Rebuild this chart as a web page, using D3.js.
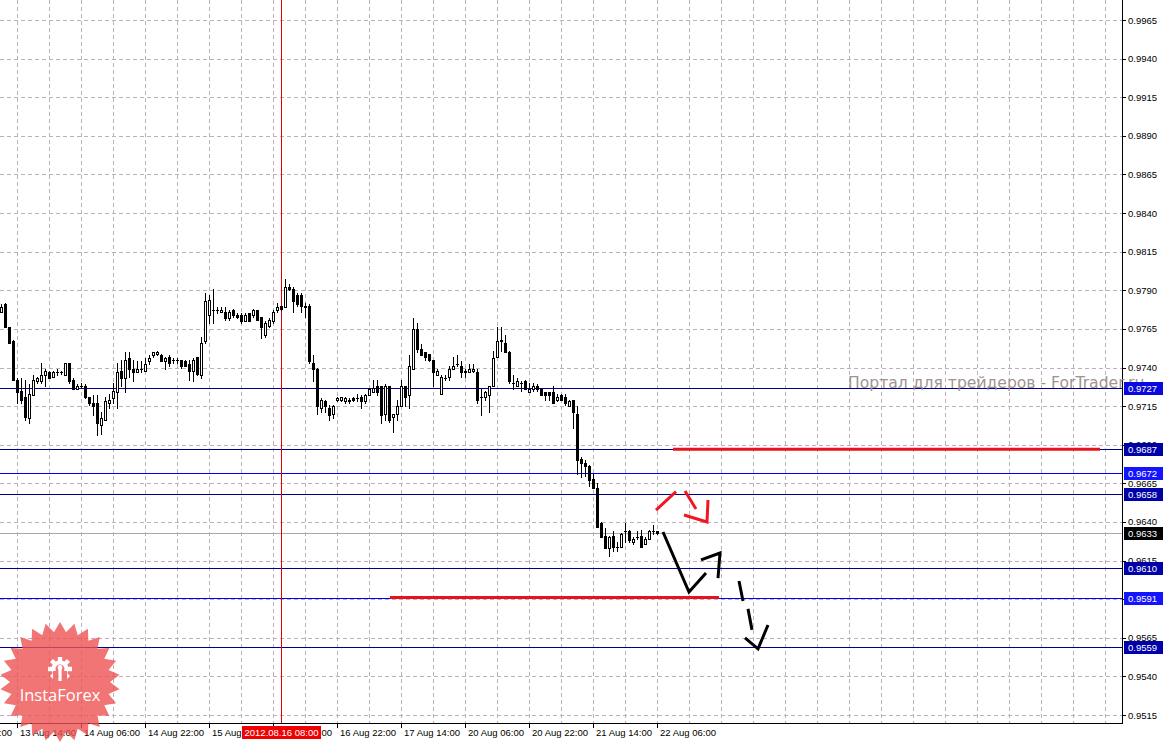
<!DOCTYPE html>
<html><head><meta charset="utf-8">
<script src="https://cdn.jsdelivr.net/npm/d3@7"></script>
<style>html,body{margin:0;padding:0;background:#fff;}svg{display:block;}</style>
</head><body>
<svg id="chart" width="1164" height="742"></svg>
<script>
// ---------------- DATA ----------------
// Hourly candles, [open, high, low, close]; index 0 = 13 Aug 10:00
const ohlc = [
[0.9776,0.9781,0.9776,0.9779],[0.9781,0.9782,0.9766,0.9766],[0.9766,0.9766,0.9756,0.9756],[0.9757,0.9758,0.9732,0.9732],
[0.9732,0.9733,0.9717,0.9724],[0.9725,0.9733,0.9717,0.9719],[0.9721,0.9732,0.9706,0.9708],[0.9707,0.9729,0.9704,0.9723],
[0.9722,0.9735,0.9722,0.9732],[0.9731,0.9734,0.9730,0.9733],[0.9731,0.9743,0.9730,0.9735],[0.9735,0.9739,0.9728,0.9738],
[0.9737,0.9738,0.9733,0.9733],[0.9734,0.9738,0.9734,0.9737],[0.9737,0.9739,0.9735,0.9737],[0.9737,0.9738,0.9736,0.9737],
[0.9735,0.9743,0.9735,0.9743],[0.9743,0.9743,0.9730,0.9731],[0.9732,0.9733,0.9726,0.9726],[0.9726,0.9729,0.9726,0.9728],
[0.9728,0.9730,0.9727,0.9728],[0.9728,0.9729,0.9720,0.9721],[0.9721,0.9721,0.9716,0.9717],[0.9717,0.9722,0.9709,0.9715],
[0.9717,0.9722,0.9696,0.9704],[0.9703,0.9711,0.9697,0.9707],[0.9706,0.9721,0.9706,0.9718],[0.9717,0.9723,0.9714,0.9719],
[0.9720,0.9730,0.9717,0.9725],[0.9724,0.9743,0.9714,0.9737],[0.9738,0.9745,0.9728,0.9733],[0.9733,0.9750,0.9724,0.9745],
[0.9746,0.9750,0.9734,0.9739],[0.9739,0.9745,0.9731,0.9737],[0.9737,0.9744,0.9737,0.9739],[0.9739,0.9744,0.9737,0.9739],
[0.9738,0.9746,0.9738,0.9742],[0.9744,0.9748,0.9742,0.9746],[0.9748,0.9750,0.9747,0.9750],[0.9749,0.9751,0.9748,0.9750],
[0.9748,0.9749,0.9744,0.9744],[0.9744,0.9747,0.9739,0.9746],[0.9747,0.9748,0.9741,0.9743],[0.9745,0.9746,0.9743,0.9745],
[0.9745,0.9746,0.9743,0.9745],[0.9745,0.9745,0.9740,0.9741],[0.9744,0.9745,0.9741,0.9741],[0.9742,0.9745,0.9732,0.9738],
[0.9738,0.9746,0.9731,0.9745],[0.9747,0.9747,0.9735,0.9736],[0.9735,0.9760,0.9733,0.9756],[0.9757,0.9788,0.9756,0.9783],
[0.9774,0.9787,0.9769,0.9784],[0.9777,0.9791,0.9769,0.9777],[0.9777,0.9779,0.9775,0.9777],[0.9776,0.9779,0.9776,0.9777],
[0.9776,0.9779,0.9771,0.9772],[0.9772,0.9777,0.9771,0.9776],[0.9777,0.9778,0.9773,0.9774],[0.9774,0.9775,0.9772,0.9773],
[0.9774,0.9775,0.9769,0.9770],[0.9770,0.9775,0.9770,0.9774],[0.9775,0.9775,0.9770,0.9770],[0.9774,0.9778,0.9773,0.9777],
[0.9777,0.9777,0.9771,0.9771],[0.9773,0.9773,0.9759,0.9766],[0.9761,0.9770,0.9760,0.9769],[0.9767,0.9772,0.9766,0.9771],
[0.9770,0.9777,0.9769,0.9776],[0.9777,0.9782,0.9776,0.9779],[0.9780,0.9780,0.9777,0.9778],[0.9779,0.9797,0.9779,0.9792],
[0.9792,0.9794,0.9790,0.9791],[0.9791,0.9792,0.9776,0.9783],[0.9787,0.9788,0.9780,0.9781],[0.9787,0.9788,0.9776,0.9780],
[0.9780,0.9782,0.9773,0.9779],[0.9780,0.9781,0.9743,0.9744],[0.9743,0.9748,0.9731,0.9739],[0.9739,0.9740,0.9710,0.9715],
[0.9714,0.9720,0.9711,0.9719],[0.9718,0.9719,0.9711,0.9715],[0.9714,0.9716,0.9706,0.9709],[0.9710,0.9716,0.9707,0.9715],
[0.9719,0.9721,0.9718,0.9720],[0.9719,0.9721,0.9718,0.9721],[0.9718,0.9721,0.9717,0.9720],[0.9719,0.9720,0.9717,0.9718],
[0.9720,0.9721,0.9718,0.9719],[0.9720,0.9723,0.9718,0.9720],[0.9721,0.9722,0.9714,0.9718],[0.9718,0.9723,0.9717,0.9722],
[0.9722,0.9727,0.9722,0.9726],[0.9724,0.9732,0.9724,0.9727],[0.9728,0.9732,0.9722,0.9724],[0.9728,0.9728,0.9704,0.9709],
[0.9710,0.9729,0.9706,0.9728],[0.9728,0.9728,0.9705,0.9706],[0.9708,0.9710,0.9698,0.9710],[0.9710,0.9719,0.9706,0.9715],
[0.9715,0.9732,0.9715,0.9728],[0.9728,0.9728,0.9715,0.9721],[0.9722,0.9748,0.9714,0.9741],[0.9739,0.9772,0.9739,0.9765],
[0.9765,0.9769,0.9750,0.9752],[0.9752,0.9755,0.9748,0.9748],[0.9750,0.9750,0.9745,0.9747],[0.9749,0.9749,0.9744,0.9745],
[0.9745,0.9745,0.9728,0.9737],[0.9735,0.9739,0.9735,0.9738],[0.9723,0.9735,0.9723,0.9734],[0.9733,0.9735,0.9732,0.9733],
[0.9734,0.9741,0.9732,0.9739],[0.9739,0.9747,0.9739,0.9741],[0.9742,0.9748,0.9741,0.9742],[0.9741,0.9744,0.9734,0.9737],
[0.9737,0.9739,0.9734,0.9738],[0.9737,0.9742,0.9737,0.9739],[0.9738,0.9742,0.9737,0.9739],[0.9737,0.9739,0.9717,0.9719],
[0.9721,0.9726,0.9709,0.9721],[0.9721,0.9725,0.9719,0.9724],[0.9722,0.9728,0.9711,0.9728],[0.9728,0.9751,0.9728,0.9746],
[0.9747,0.9766,0.9747,0.9757],[0.9757,0.9766,0.9751,0.9758],[0.9756,0.9761,0.9750,0.9750],[0.9750,0.9751,0.9730,0.9731],
[0.9730,0.9735,0.9726,0.9730],[0.9728,0.9733,0.9728,0.9731],[0.9730,0.9731,0.9725,0.9730],[0.9731,0.9732,0.9726,0.9726],
[0.9724,0.9730,0.9724,0.9726],[0.9726,0.9730,0.9725,0.9728],[0.9728,0.9729,0.9725,0.9726],[0.9726,0.9726,0.9722,0.9722],
[0.9724,0.9724,0.9719,0.9722],[0.9724,0.9724,0.9719,0.9722],[0.9724,0.9728,0.9717,0.9717],[0.9719,0.9723,0.9718,0.9721],
[0.9722,0.9723,0.9719,0.9719],[0.9721,0.9723,0.9716,0.9717],[0.9715,0.9719,0.9715,0.9718],[0.9719,0.9719,0.9701,0.9711],
[0.9710,0.9715,0.9671,0.9680],[0.9681,0.9682,0.9669,0.9678],[0.9678,0.9680,0.9670,0.9676],[0.9676,0.9677,0.9663,0.9667],
[0.9668,0.9671,0.9662,0.9662],[0.9662,0.9665,0.9637,0.9637],[0.9639,0.9640,0.9630,0.9630],[0.9631,0.9636,0.9623,0.9623],
[0.9623,0.9631,0.9618,0.9630],[0.9631,0.9634,0.9621,0.9624],[0.9624,0.9627,0.9621,0.9624],[0.9624,0.9633,0.9624,0.9632],
[0.9634,0.9639,0.9627,0.9634],[0.9634,0.9635,0.9627,0.9628],[0.9627,0.9630,0.9626,0.9629],[0.9630,0.9634,0.9629,0.9630],
[0.9631,0.9635,0.9624,0.9624],[0.9626,0.9630,0.9626,0.9629],[0.9629,0.9635,0.9629,0.9634],[0.9634,0.9638,0.9632,0.9634],
[0.9634,0.9634,0.9632,0.9633]
];

// price axis ticks
const priceTicks = [0.9515,0.9540,0.9565,0.9590,0.9615,0.9640,0.9665,0.9690,0.9715,0.9740,0.9765,0.9790,0.9815,0.9840,0.9865,0.9890,0.9915,0.9940,0.9965];
// time axis labels (bar index, label)
const timeIdx = [-12,4,20,36,52,68,84,100,116,132,148,164];
const timeLabels = ["12 Aug 22:00","13 Aug 14:00","14 Aug 06:00","14 Aug 22:00","15 Aug 14:00","16 Aug 06:00","16 Aug 22:00","17 Aug 14:00","20 Aug 06:00","20 Aug 22:00","21 Aug 14:00","22 Aug 06:00"];

// horizontal levels: price, style kind
const levelPrices = [0.9727,0.9687,0.9672,0.9658,0.9610,0.9591,0.9559];
const levelKinds  = ["navy","navy","blue","navy","navy","blue","navy"];
const bidPrice = 0.9633;

// crosshair
const crossIdx = 70;
const crossLabel = "2012.08.16 08:00";

// thick red support/resistance segments: [price, fromIdx, toIdx]
const redSegments = [[0.9687,168,274.75],[0.9591,97.25,179.5]];

// hand-drawn forecast strokes: list of [idx, price] points
const redStrokes = [
  [[163.75,0.96477],[168.75,0.96596]],
  [[171,0.96600],[173.75,0.96484]],
  [[170.75,0.96445],[176.5,0.96400],[176.75,0.96542]]
];
const blackStrokes = [
  [[165.5,0.96335],[172,0.95946],[176.25,0.96069]],
  [[175,0.96154],[179.75,0.96199],[179.25,0.96037]],
  [[184.5,0.96018],[185.5,0.95888]],
  [[186.75,0.95837],[187.75,0.95701]],
  [[186,0.95649],[189.25,0.95578],[191.75,0.95733]]
];

const watermark = "Портал для трейдеров - ForTrader.ru";
const logoText = "InstaForex";

// ---------------- DRAW ----------------
const W = 1164, H = 742;
const plotR = 1122, plotB = 723;
const svg = d3.select("#chart");
const x = d3.scaleLinear().domain([0, 280.25]).range([1, plotR]);
const y = d3.scaleLinear().domain([0.9515, 0.9965]).range([715, 20]);
const fontAxis = "'Liberation Sans', Arial, sans-serif";
const px = v => Math.round(v) + 0.5;

svg.append("rect").attr("width", W).attr("height", H).attr("fill", "#fff");

// grid
const grid = svg.append("g");
const vGrid = d3.range(4, 281, 8).filter(i => x(i) < plotR);
grid.selectAll("line.v").data(vGrid).join("line")
  .attr("x1", d => px(x(d))).attr("x2", d => px(x(d)))
  .attr("y1", 0).attr("y2", plotB)
  .attr("stroke", "#bfb0c0").attr("stroke-dasharray", "4,3");
grid.selectAll("line.h").data(priceTicks).join("line")
  .attr("x1", 0).attr("x2", plotR)
  .attr("y1", d => px(y(d))).attr("y2", d => px(y(d)))
  .attr("stroke", "#bfb0c0").attr("stroke-dasharray", "4,3");

// levels
const lvlColor = {navy: "#000090", blue: "#0000f0"};
const lvlBox = {navy: "#0000a8", blue: "#1414ff"};
svg.append("g").selectAll("line").data(levelPrices).join("line")
  .attr("x1", 0).attr("x2", plotR)
  .attr("y1", d => px(y(d))).attr("y2", d => px(y(d)))
  .attr("stroke", (d, i) => lvlColor[levelKinds[i]]).attr("stroke-width", 1);

// bid line
svg.append("line").attr("x1", 0).attr("x2", plotR)
  .attr("y1", px(y(bidPrice))).attr("y2", px(y(bidPrice)))
  .attr("stroke", "#a8a8a8");

// crosshair vertical
svg.append("line").attr("x1", px(x(crossIdx))).attr("x2", px(x(crossIdx)))
  .attr("y1", 0).attr("y2", plotB).attr("stroke", "#e00000");

// candles
const cg = svg.append("g");
ohlc.forEach((d, i) => {
  const [o, h, l, c] = d;
  const cx = Math.round(x(i));
  cg.append("line").attr("x1", cx + 0.5).attr("x2", cx + 0.5)
    .attr("y1", Math.round(y(h))).attr("y2", Math.round(y(l)) + 1)
    .attr("stroke", "#000");
  const yt = px(y(Math.max(o, c))), yb = px(y(Math.min(o, c)));
  if (yb - yt < 1) {
    cg.append("line").attr("x1", cx - 1).attr("x2", cx + 2)
      .attr("y1", yt).attr("y2", yt).attr("stroke", "#000");
  } else {
    cg.append("rect").attr("x", cx - 0.5).attr("y", yt)
      .attr("width", 2).attr("height", yb - yt)
      .attr("fill", c >= o ? "#fff" : "#000").attr("stroke", "#000");
  }
});

// red thick segments
svg.append("g").selectAll("line").data(redSegments).join("line")
  .attr("x1", d => x(d[1])).attr("x2", d => x(d[2]))
  .attr("y1", d => y(d[0])).attr("y2", d => y(d[0]))
  .attr("stroke", "#e8121c").attr("stroke-width", 3);

// strokes
const lineGen = d3.line().x(d => x(d[0])).y(d => y(d[1]));
svg.append("g").selectAll("path").data(redStrokes).join("path")
  .attr("d", lineGen).attr("fill", "none").attr("stroke", "#f01820")
  .attr("stroke-width", 3).attr("stroke-linecap", "butt").attr("stroke-linejoin", "miter");
svg.append("g").selectAll("path").data(blackStrokes).join("path")
  .attr("d", lineGen).attr("fill", "none").attr("stroke", "#000")
  .attr("stroke-width", 3).attr("stroke-linecap", "butt").attr("stroke-linejoin", "miter");

// axes lines
svg.append("line").attr("x1", plotR + 0.5).attr("x2", plotR + 0.5).attr("y1", 0).attr("y2", plotB + 1).attr("stroke", "#000");
svg.append("line").attr("x1", 0).attr("x2", plotR + 1).attr("y1", plotB + 0.5).attr("y2", plotB + 0.5).attr("stroke", "#000");

// price tick labels
const pa = svg.append("g");
pa.selectAll("line").data(priceTicks).join("line")
  .attr("x1", plotR).attr("x2", plotR + 4)
  .attr("y1", d => px(y(d))).attr("y2", d => px(y(d))).attr("stroke", "#000");
pa.selectAll("text").data(priceTicks).join("text")
  .attr("x", plotR + 6).attr("y", d => y(d) + 3.5)
  .attr("font-family", fontAxis).attr("font-size", 9.5).attr("fill", "#000")
  .text(d => d.toFixed(4));

// time labels
const ta = svg.append("g");
ta.selectAll("line").data(timeIdx).join("line")
  .attr("x1", d => px(x(d))).attr("x2", d => px(x(d)))
  .attr("y1", plotB).attr("y2", plotB + 5).attr("stroke", "#000");
ta.selectAll("text").data(timeIdx).join("text")
  .attr("x", d => x(d) + 3).attr("y", plotB + 13)
  .attr("font-family", fontAxis).attr("font-size", 9.5).attr("fill", "#000")
  .text((d, i) => timeLabels[i]);

// crosshair label
const cxp = x(crossIdx);
svg.append("rect").attr("x", cxp - 39).attr("y", plotB + 3).attr("width", 79).attr("height", 13).attr("fill", "#f00000");
svg.append("text").attr("x", cxp + 0.5).attr("y", plotB + 13).attr("text-anchor", "middle")
  .attr("font-family", fontAxis).attr("font-size", 9.5).attr("fill", "#fff").text(crossLabel);

// watermark
svg.append("text").attr("x", 848).attr("y", 388)
  .attr("font-family", "'DejaVu Sans', Verdana, sans-serif").attr("font-size", 15.6)
  .attr("fill", "#9f9393").text(watermark);

// level labels
const lb = svg.append("g");
levelPrices.forEach((p, i) => {
  const yy = Math.round(y(p));
  lb.append("rect").attr("x", plotR + 2).attr("y", yy - 6).attr("width", 39).attr("height", 13)
    .attr("fill", i === 0 ? "#0a0ae0" : lvlBox[levelKinds[i]]);
  lb.append("text").attr("x", plotR + 6).attr("y", yy + 4)
    .attr("font-family", fontAxis).attr("font-size", 9.5).attr("fill", "#fff").text(p.toFixed(4));
});
{
  const yy = Math.round(y(bidPrice));
  lb.append("rect").attr("x", plotR + 2).attr("y", yy - 6).attr("width", 39).attr("height", 13).attr("fill", "#000");
  lb.append("text").attr("x", plotR + 6).attr("y", yy + 4)
    .attr("font-family", fontAxis).attr("font-size", 9.5).attr("fill", "#fff").text(bidPrice.toFixed(4));
}

// logo starburst
const logo = svg.append("g").attr("transform", "translate(60,682)").attr("opacity", 0.8);
const nSp = 26, R1 = 60, R2 = 50;
const pts = d3.range(nSp * 2).map(k => {
  const a = Math.PI * k / nSp - Math.PI / 2;
  const r = k % 2 === 0 ? R1 : R2;
  return [r * Math.cos(a), r * Math.sin(a)];
});
logo.append("polygon").attr("points", pts.map(p => p.join(",")).join(" ")).attr("fill", "#ee5353");
// gear icon
const gear = logo.append("g").attr("transform", "translate(0,-13)");
const teeth = d3.range(8).map(k => k * 45);
gear.selectAll("rect").data(teeth).join("rect")
  .attr("x", -2.2).attr("y", -12).attr("width", 4.4).attr("height", 5)
  .attr("fill", "#fff").attr("transform", d => `rotate(${d})`);
gear.append("circle").attr("r", 8.5).attr("fill", "#fff");
gear.append("circle").attr("r", 4.5).attr("fill", "#ee5353");
gear.append("rect").attr("x", -7).attr("y", 2).attr("width", 14).attr("height", 12).attr("fill", "#ee5353");
gear.append("rect").attr("x", -1.6).attr("y", -1).attr("width", 3.2).attr("height", 13).attr("fill", "#fff");
gear.append("circle").attr("cy", -1.5).attr("r", 2.4).attr("fill", "#fff");
logo.append("text").attr("x", 0).attr("y", 19).attr("text-anchor", "middle")
  .attr("font-family", "'Open Sans', 'Noto Sans', sans-serif").attr("font-size", 16.5)
  .attr("fill", "#fff").text(logoText);
</script>
</body></html>
